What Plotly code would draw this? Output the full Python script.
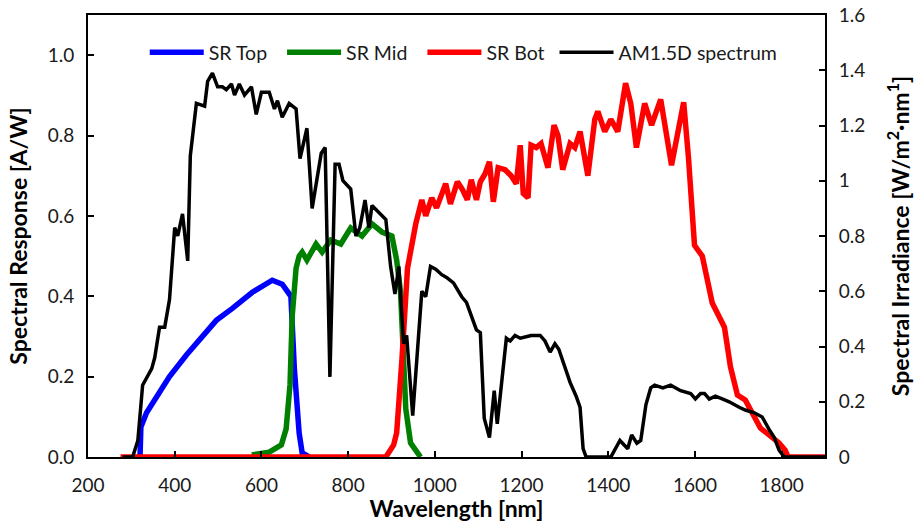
import plotly.graph_objects as go

# ---- data ----
top_wl = [320, 322, 335, 358, 388, 427, 457, 496, 533, 579, 625, 648, 668, 676, 687, 694, 710]
top_sr = [0.0, 0.075, 0.11, 0.15, 0.20, 0.254, 0.29, 0.34, 0.37, 0.41, 0.44, 0.43, 0.40, 0.22, 0.06, 0.01, 0.0]

mid_wl = [578, 618, 646, 657, 666, 671, 680, 687, 694, 705, 726, 740, 760, 783, 806, 832, 855, 878,
          901, 912, 921, 928, 933, 944, 967]
mid_sr = [0.005, 0.012, 0.03, 0.07, 0.18, 0.35, 0.47, 0.50, 0.51, 0.49, 0.53, 0.51, 0.54, 0.53, 0.57,
          0.55, 0.58, 0.56, 0.55, 0.49, 0.41, 0.24, 0.12, 0.035, 0.0]

bot_wl = [275, 887, 905, 912, 924, 937, 956, 970, 979, 993, 1004, 1025, 1036, 1052, 1064, 1075, 1084,
          1096, 1105, 1116, 1126, 1135, 1146, 1162, 1176, 1188, 1197, 1204, 1215, 1222, 1234, 1245,
          1261, 1275, 1284, 1295, 1312, 1323, 1335, 1353, 1369, 1376, 1392, 1406, 1422, 1440, 1452,
          1465, 1484, 1500, 1521, 1546, 1574, 1585, 1599, 1617, 1640, 1656, 1668, 1682, 1698, 1716,
          1751, 1794, 1808, 1815, 1900]
bot_sr = [0.0, 0.0, 0.03, 0.06, 0.24, 0.47, 0.58, 0.64, 0.60, 0.645, 0.62, 0.68, 0.63, 0.685, 0.665,
          0.64, 0.69, 0.64, 0.685, 0.705, 0.735, 0.635, 0.72, 0.715, 0.70, 0.68, 0.776, 0.656, 0.645,
          0.776, 0.77, 0.78, 0.72, 0.826, 0.80, 0.715, 0.78, 0.77, 0.81, 0.70, 0.84, 0.86, 0.81, 0.84,
          0.81, 0.93, 0.88, 0.77, 0.88, 0.826, 0.89, 0.726, 0.883, 0.746, 0.527, 0.50, 0.383, 0.346,
          0.323, 0.224, 0.154, 0.142, 0.072, 0.035, 0.017, 0.0, 0.0]

am_wl = [280, 303, 315, 326, 347, 354, 365, 377, 388, 395, 400, 407, 418, 430, 436, 450, 469, 476,
         487, 499, 510, 519, 531, 538, 549, 561, 577, 588, 600, 618, 630, 637, 648, 664, 680, 689,
         705, 717, 738, 747, 758, 770, 779, 788, 806, 818, 827, 839, 848, 855, 875, 887, 898, 908,
         917, 928, 935, 949, 970, 979, 990, 1002, 1016, 1027, 1043, 1062, 1073, 1085, 1096, 1105,
         1114, 1126, 1137, 1144, 1165, 1174, 1185, 1197, 1222, 1243, 1254, 1266, 1277, 1286, 1300,
         1312, 1326, 1335, 1342, 1349, 1406, 1427, 1445, 1454, 1466, 1475, 1487, 1498, 1507, 1526,
         1544, 1555, 1567, 1590, 1601, 1613, 1622, 1633, 1647, 1663, 1679, 1702, 1716, 1737, 1755,
         1771, 1783, 1794, 1806, 1900]
am_irr = [0.0, 0.0, 0.06, 0.26, 0.32, 0.36, 0.47, 0.47, 0.57, 0.71, 0.83, 0.80, 0.88, 0.71, 1.09,
          1.28, 1.27, 1.36, 1.39, 1.34, 1.34, 1.33, 1.35, 1.31, 1.35, 1.31, 1.34, 1.24, 1.32, 1.32,
          1.26, 1.29, 1.23, 1.28, 1.26, 1.08, 1.19, 0.90, 1.10, 1.12, 0.29, 1.06, 1.06, 1.00, 0.97,
          0.80, 0.83, 0.93, 0.83, 0.91, 0.88, 0.86, 0.69, 0.59, 0.69, 0.41, 0.44, 0.15, 0.60, 0.58,
          0.69, 0.68, 0.66, 0.65, 0.63, 0.58, 0.56, 0.51, 0.46, 0.45, 0.14, 0.07, 0.24, 0.12, 0.43,
          0.42, 0.44, 0.43, 0.44, 0.44, 0.42, 0.38, 0.41, 0.39, 0.32, 0.27, 0.22, 0.18, 0.03, 0.0,
          0.0, 0.06, 0.03, 0.08, 0.05, 0.06, 0.19, 0.25, 0.26, 0.25, 0.26, 0.25, 0.24, 0.23, 0.21,
          0.23, 0.23, 0.21, 0.22, 0.21, 0.20, 0.18, 0.17, 0.16, 0.145, 0.10, 0.07, 0.025, 0.0, 0.0]

x_ticks = [200, 400, 600, 800, 1000, 1200, 1400, 1600, 1800]

FONT = "Lato"
PAD = "\u00a0\u00a0"  # keeps legend entries spaced like the reference

fig = go.Figure()
fig.add_trace(go.Scatter(x=top_wl, y=top_sr, mode="lines", name="SR Top" + PAD,
                         line=dict(color="#0000FF", width=5.5)))
fig.add_trace(go.Scatter(x=mid_wl, y=mid_sr, mode="lines", name="SR Mid" + PAD,
                         line=dict(color="#008000", width=5.5)))
fig.add_trace(go.Scatter(x=bot_wl, y=bot_sr, mode="lines", name="SR Bot\u00a0",
                         line=dict(color="#FF0000", width=5.5)))
fig.add_trace(go.Scatter(x=am_wl, y=am_irr, mode="lines", name="AM1.5D spectrum",
                         line=dict(color="#000000", width=3.5), yaxis="y2"))

axis_common = dict(showgrid=False, zeroline=False, showline=True, linecolor="black",
                   linewidth=2, ticks="inside", ticklen=6, tickwidth=1.5, tickcolor="black",
                   automargin=False,
                   tickfont=dict(family=FONT, size=19, color="#1a1a1a"))

TITLE_FONT = dict(family=FONT, size=23, color="black")

fig.update_layout(
    width=914, height=522,
    margin=dict(l=88, r=89, t=15, b=65, autoexpand=False),
    paper_bgcolor="white", plot_bgcolor="white",
    font=dict(family=FONT, color="black"),
    xaxis=dict(range=[200, 1900], tickvals=x_ticks, mirror=True,
               title=dict(text="<b>Wavelength [nm]</b>", font=TITLE_FONT, standoff=5),
               ticklabelstandoff=10,
               **axis_common),
    yaxis=dict(range=[0, 1.1], dtick=0.2, tickformat=".1f", mirror=True,
               title=dict(text="<b>Spectral Response [A/W]</b>", font=TITLE_FONT, standoff=14),
               ticklabelstandoff=8,
               **axis_common),
    yaxis2=dict(range=[0, 1.6], dtick=0.2, overlaying="y", side="right",
                title=dict(text="<b>Spectral Irradiance [W/m<sup>2</sup>·nm<sup>1</sup>]</b>",
                           font=TITLE_FONT, standoff=30),
                ticklabelstandoff=8,
                **axis_common),
    legend=dict(orientation="h", x=0.077, y=0.915, xanchor="left", yanchor="middle",
                bgcolor="rgba(0,0,0,0)", font=dict(family=FONT, size=19.5, color="#1a1a1a"),
                itemwidth=54, tracegroupgap=0),
    showlegend=True,
)

fig.write_html("out.html")
